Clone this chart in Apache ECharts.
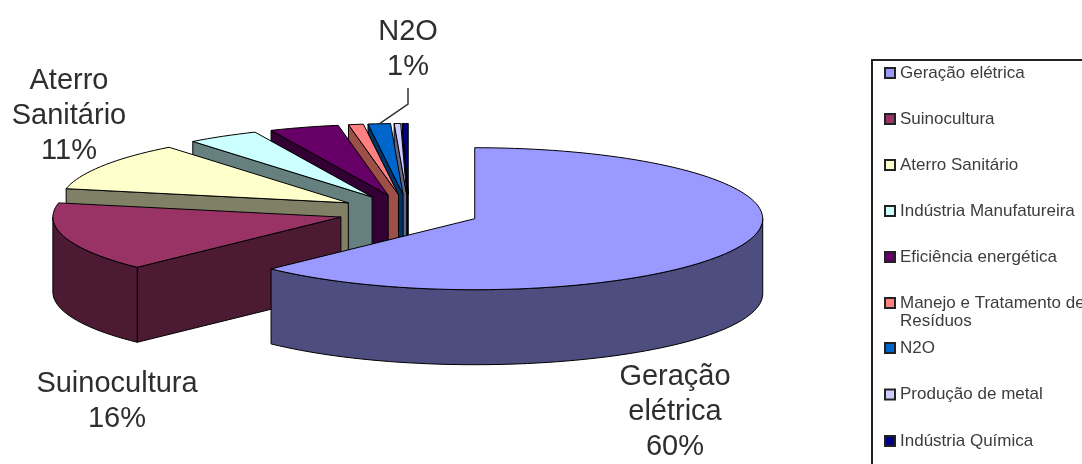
<!DOCTYPE html>
<html>
<head>
<meta charset="utf-8">
<title>Emissões por setor</title>
<style>html,body{margin:0;padding:0;background:#fff}#chart{width:1082px;height:464px}</style>
<script src="https://cdn.jsdelivr.net/npm/echarts@6/dist/echarts.min.js"></script>
</head>
<body>
<div id="chart"></div>
<script>
// Sector names and their shares of the total, in percent, clockwise from 12 o'clock.
const sectors = ['Geração elétrica', 'Suinocultura', 'Aterro Sanitário', 'Indústria Manufatureira',
  'Eficiência energética', 'Manejo e Tratamento de Resíduos', 'N2O', 'Produção de metal', 'Indústria Química'];
const shares = [60, 16, 11, 5, 4, 1, 1, 1, 1];
const topColors = ['#9999ff', '#993366', '#ffffcc', '#ccffff', '#660066', '#ff8080', '#0066cc', '#ccccff', '#000080'];
const sideColors = ['#4d4d80', '#4d1a33', '#808066', '#668080', '#330033', '#9c5048', '#003366', '#666680', '#000040'];

// Disc geometry of the exploded pie.
const disc = { cx: 409, cy: 212, rx: 288, ry: 71, depth: 75, explode: 0.247 };

// Perspective correction: true sweep angle -> angle on the projected ellipse.
const sweepKnots = [0, 216, 273.6, 313.2, 331.2, 345.6, 349.2, 352.8, 356.4, 360];
const ellipseKnots = [0, 225, 281.5, 321.5, 336, 350, 353, 357.5, 358.8, 360];

// Callout text placement, keyed by sector.
const callouts = {
  'Geração elétrica': { x: 675, y: 412, wrap: true },
  'Suinocultura': { x: 117, y: 401, wrap: false },
  'Aterro Sanitário': { x: 69, y: 116, wrap: true },
  'N2O': { x: 408, y: 49, wrap: false, leader: [[408, 88], [408, 104]] }
};

const rad = d => d * Math.PI / 180;

function toEllipse(sweep) {
  for (let i = 1; i < sweepKnots.length; i++) {
    if (sweep <= sweepKnots[i] + 1e-9) {
      return echarts.number.linearMap(sweep, [sweepKnots[i - 1], sweepKnots[i]], [ellipseKnots[i - 1], ellipseKnots[i]]);
    }
  }
  return 360;
}

const total = shares.reduce((a, b) => a + b, 0);
const spans = [];
shares.reduce((acc, v) => {
  const next = acc + v / total * 360;
  spans.push([toEllipse(acc), toEllipse(next)]);
  return next;
}, 0);

function rimPoint(apex, deg, drop) {
  return [apex[0] + disc.rx * Math.sin(rad(deg)), apex[1] - disc.ry * Math.cos(rad(deg)) + (drop || 0)];
}

function arcPoints(apex, from, to, drop) {
  const pts = [];
  const n = Math.max(2, Math.ceil((to - from) / 2));
  for (let i = 0; i <= n; i++) pts.push(rimPoint(apex, from + (to - from) * i / n, drop));
  return pts;
}

function renderSlice(index) {
  const [a0, a1] = spans[index];
  const mid = (a0 + a1) / 2;
  const apex = [
    disc.cx + disc.explode * disc.rx * Math.sin(rad(mid)),
    disc.cy - disc.explode * disc.ry * Math.cos(rad(mid))
  ];
  const line = { stroke: '#000', lineWidth: 1, lineJoin: 'round' };
  const children = [];
  const poly = (points, fill) => children.push({ type: 'polygon', shape: { points }, style: Object.assign({ fill }, line) });

  // The cut face turned towards the viewer.
  if (a0 > 180 && a0 < 360) {
    const rim = rimPoint(apex, a0);
    poly([apex, rim, [rim[0], rim[1] + disc.depth], [apex[0], apex[1] + disc.depth]], sideColors[index]);
  }
  // Outer wall, only where the rim faces front.
  const w0 = Math.max(a0, 90), w1 = Math.min(a1, 270);
  if (w1 > w0) {
    poly(arcPoints(apex, w0, w1, 0).concat(arcPoints(apex, w0, w1, disc.depth).reverse()), sideColors[index]);
  }
  // Top face.
  poly([apex].concat(arcPoints(apex, a0, a1, 0)), topColors[index]);

  // Callout text and its leader line.
  const note = callouts[sectors[index]];
  if (note) {
    const name = note.wrap ? sectors[index].replace(' ', '\n') : sectors[index];
    children.push({
      type: 'text',
      style: {
        text: name + '\n' + shares[index] + '%', x: note.x, y: note.y, align: 'center', verticalAlign: 'middle',
        fontFamily: 'Liberation Sans', fontSize: 29, lineHeight: 35, fill: '#2e2e2e'
      }
    });
    if (note.leader) {
      children.push({
        type: 'polyline',
        shape: { points: note.leader.concat([rimPoint(apex, mid)]) },
        style: { stroke: '#333', lineWidth: 1.5, fill: null }
      });
    }
  }
  return { type: 'group', children };
}

// Series run from the far slices to the near ones so nearer faces paint on top.
const series = sectors.map((name, i) => ({
  type: 'custom',
  name,
  coordinateSystem: 'none',
  silent: true,
  animation: false,
  data: [shares[i]],
  itemStyle: { color: topColors[i] },
  renderItem: () => renderSlice(i)
})).reverse();

// The two-line entry sits in its own legend block, so its swatch stays on the first line
// and the rows after it keep the regular spacing.
function legendBlock(first, last, top, gap, formatter) {
  return {
    orient: 'vertical', left: 884, top, padding: 0, z: 5,
    itemWidth: 10, itemHeight: 10, itemGap: gap, icon: 'rect', selectedMode: false,
    textStyle: { fontFamily: 'Liberation Sans', fontSize: 17, lineHeight: 18, color: '#3c3c3c' },
    formatter,
    data: sectors.slice(first, last).map((name, k) => ({
      name,
      itemStyle: { color: topColors[first + k], borderColor: '#222', borderWidth: 2 }
    }))
  };
}

const chart = echarts.init(document.getElementById('chart'), null, { renderer: 'canvas' });
chart.setOption({
  backgroundColor: '#fff',
  animation: false,
  graphic: [{
    type: 'rect', z: 0, silent: true,
    shape: { x: 872, y: 60, width: 400, height: 600 },
    style: { fill: '#fff', stroke: '#222', lineWidth: 2 }
  }],
  legend: [
    legendBlock(0, 5, 64, 28, '{name}'),
    legendBlock(5, 6, 276, 0, name => '\n' + name.replace(' Resíduos', '\nResíduos')),
    legendBlock(6, 9, 339, 28.5, '{name}')
  ],
  series
});
</script>
</body>
</html>
